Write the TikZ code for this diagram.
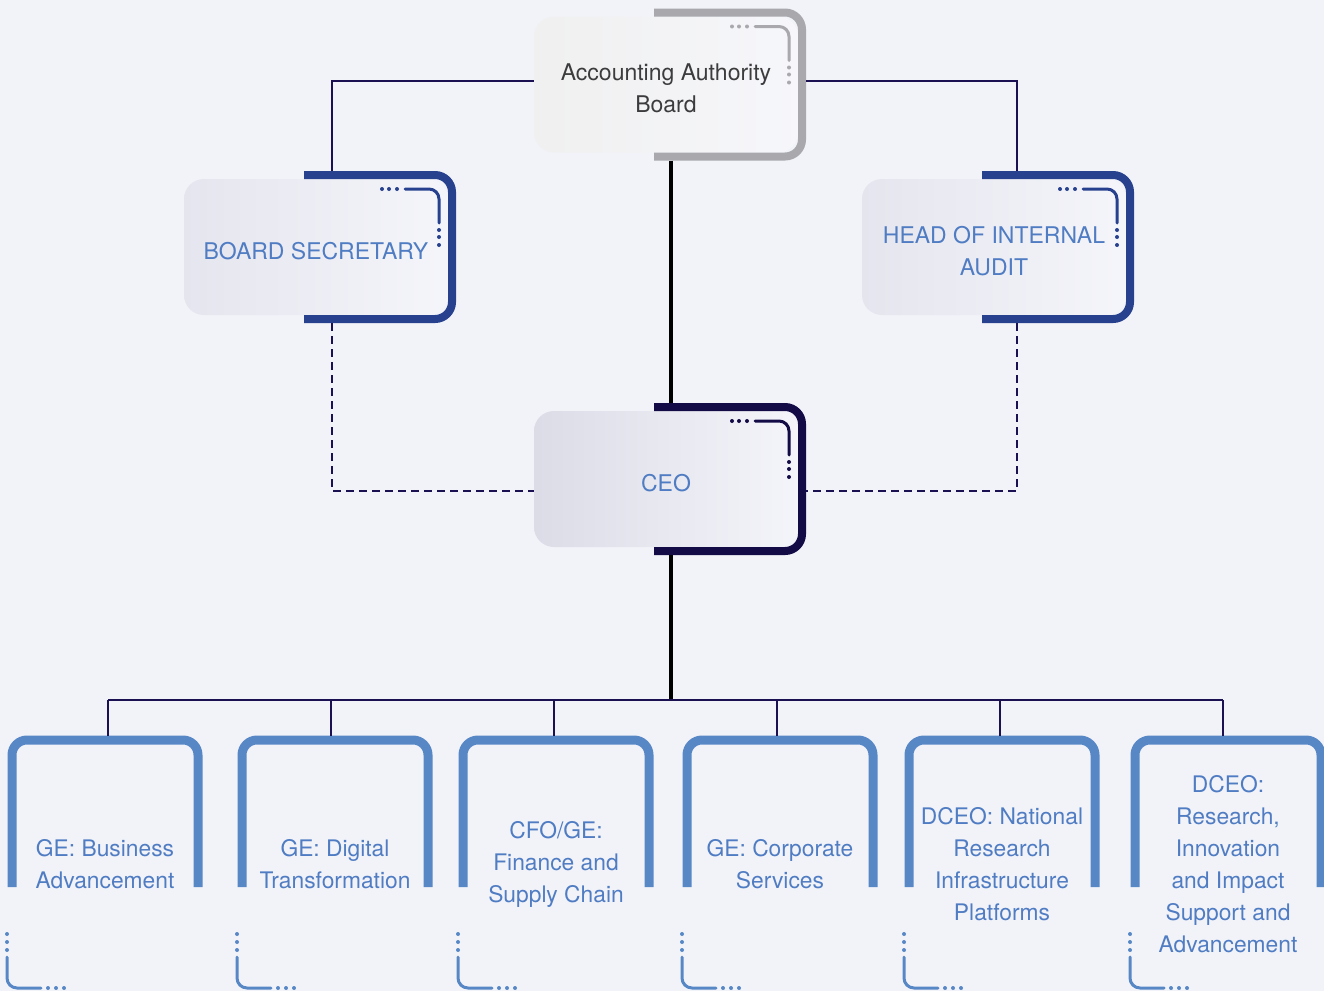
\documentclass[tikz,border=0pt]{standalone}
\usepackage{fontspec}
\setmainfont{TeX Gyre Heros}
\usetikzlibrary{calc}

\definecolor{pagebg}{HTML}{F2F3F9}
\definecolor{linknavy}{HTML}{1B1152}
\definecolor{boardgray}{HTML}{A8A8AD}
\definecolor{officeblue}{HTML}{27418F}
\definecolor{ceonavy}{HTML}{130B46}
\definecolor{unitblue}{HTML}{5887C6}
\definecolor{labelblue}{HTML}{4F7CC2}
\definecolor{labelgray}{HTML}{3C3C3E}

\tikzset{
  office/.style={rounded corners=20pt, minimum width=264pt, minimum height=136pt,
    inner sep=0pt},
  officetext/.style={align=center, inner sep=0pt, yshift=-4pt,
    font=\fontsize{23}{32}\selectfont, text=labelblue},
  unit/.style={align=center, inner sep=0pt, font=\fontsize{22.8}{32}\selectfont, text=labelblue},
  link/.style={linknavy, line width=2pt},
  trunk/.style={black, line width=4pt},
  reportline/.style={linknavy, line width=2.6pt, dash pattern=on 8pt off 5pt},
  arch/.style={unitblue, line width=9pt, rounded corners=15pt},
  tail/.style={unitblue, line width=3pt, line cap=round, rounded corners=10pt}
}

% bracket drawn on the right half of an office box
\newcommand{\officebracket}[2]{%
  \draw[#2, line width=8pt, rounded corners=17pt]
    ($(#1.center)+(-12,-72)$) -- ++(148,0) -- ++(0,144) -- ++(-148,0);
  \draw[#2, line width=3pt, line cap=round, rounded corners=10pt]
    ($(#1.center)+(89,-58)$) -- ++(34,0) -- ++(0,34);
  \foreach \d in {66,73,81} \fill[#2] ($(#1.center)+(\d,-58)$) circle (2pt);
  \foreach \d in {-17,-10,-2} \fill[#2] ($(#1.center)+(123,\d)$) circle (2pt);
}

\begin{document}
\begin{tikzpicture}[x=1pt,y=-1pt]
\fill[pagebg] (0,0) rectangle (1324,991);
\useasboundingbox (0,0) rectangle (1324,991);

% top of the tree
\node[office, left color=gray!12!white, right color=pagebg!70!white,
  label={[officetext, text=labelgray]center:{Accounting Authority\\Board}}]
  (aab) at (666,84.5) {};
\node[office, left color=ceonavy!6!pagebg, right color=pagebg!80!white,
  label={[officetext]center:BOARD SECRETARY}]
  (bs) at (316,247) {};
\node[office, left color=ceonavy!6!pagebg, right color=pagebg!80!white,
  label={[officetext]center:{HEAD OF INTERNAL\\AUDIT}}]
  (hoia) at (994,247) {};
\node[office, left color=ceonavy!10!pagebg, right color=pagebg!85!white,
  label={[officetext]center:CEO}]
  (ceo) at (666,479) {};

\officebracket{aab}{boardgray}
\officebracket{bs}{officeblue}
\officebracket{hoia}{officeblue}
\officebracket{ceo}{ceonavy}

% connectors
\draw[link] ($(aab.west)+(0,-4)$) -| ($(bs.north)+(16,-8)$);
\draw[link] ($(aab.east)+(8,-4)$) -| ($(hoia.north)+(23,-8)$);
\draw[trunk] ($(aab.south)+(5,8)$) -- ($(ceo.north)+(5,-8)$);
\draw[reportline] ($(bs.south)+(16,8)$) |- ($(ceo.west)+(0,12)$);
\draw[reportline] ($(hoia.south)+(23,8)$) |- ($(ceo.east)+(8,12)$);

\coordinate (bus) at (671,700);
\draw[trunk] ($(ceo.south)+(5,8)$) -- (bus);

% business units
\foreach \i/\bx/\dx/\txt in {
    1/105/108/{GE: Business\\Advancement},
    2/335/331/{GE: Digital\\Transformation},
    3/556/554/{CFO/GE:\\Finance and\\Supply Chain},
    4/780/777/{GE: Corporate\\Services},
    5/1002/1000/{DCEO: National\\Research\\Infrastructure\\Platforms},
    6/1228/1223/{DCEO:\\Research,\\Innovation\\and Impact\\Support and\\Advancement}} {
  \node[unit] (u\i) at (\bx,864) {\txt};
  \coordinate (d\i) at (\dx,736);
  \draw[arch] ($(u\i.center)+(-93,23)$) -- ++(0,-147) -- ++(186,0) -- ++(0,147);
  \draw[link] (d\i |- bus) -- (d\i);
  \draw[tail] ($(u\i.center)+(-98,93)$) -- ++(0,31) -- ++(34,0);
  \foreach \d in {70,78,86} \fill[unitblue] ($(u\i.center)+(-98,\d)$) circle (2pt);
  \foreach \d in {-57,-49,-41} \fill[unitblue] ($(u\i.center)+(\d,124)$) circle (2pt);
}
\draw[link] (d1 |- bus) -- (d6 |- bus);
\end{tikzpicture}
\end{document}
